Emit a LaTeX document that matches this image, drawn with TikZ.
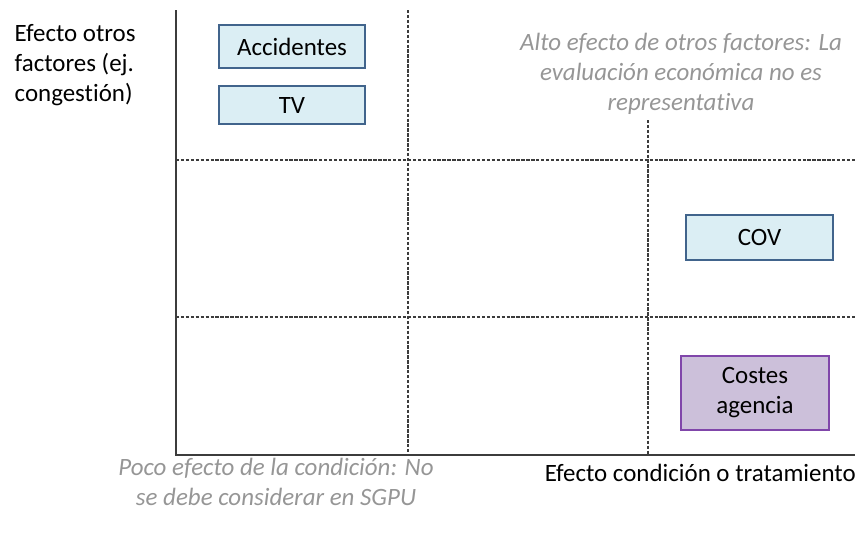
\documentclass[tikz,border=0pt]{standalone}
\usepackage{fontspec}
\setmainfont[Ligatures=NoCommon]{Carlito}
\definecolor{cajaAzul}{RGB}{219,238,244}
\definecolor{bordeAzul}{RGB}{65,100,140}
\definecolor{cajaLila}{RGB}{204,192,218}
\definecolor{bordeLila}{RGB}{128,70,170}
\definecolor{textoGris}{RGB}{150,150,150}
\definecolor{lineaEje}{RGB}{60,60,60}
\tikzset{
  eje/.style={draw=lineaEje, line width=1.5pt},
  guia/.style={draw=lineaEje, line width=1pt, dash pattern=on 2.5pt off 1.2pt},
  caja/.style={draw=bordeAzul, fill=cajaAzul, line width=1.2pt},
  cajaCoste/.style={draw=bordeLila, fill=cajaLila, line width=1.2pt},
  nota/.style={text=textoGris, font=\fontsize{18.7pt}{22.3pt}\selectfont\itshape, align=center}
}

\begin{document}
\begin{tikzpicture}[x=0.75pt, y=-0.75pt, font=\fontsize{18.7pt}{22.5pt}\selectfont]
    \useasboundingbox (0,0) rectangle (855,533);
    % ejes y cuadrantes
    \draw[guia] (408,10) -- (408,455);
    \draw[guia] (648,120) -- (648,455);
    \draw[guia] (176,160) -- (855,160);
    \draw[guia] (176,317) -- (855,317);
    \draw[eje] (176,10) -- (176,455) -- (855,455);

    \node[anchor=north west, align=left] (ejeY) at (10,20) {Efecto otros\\factores (ej.\\congestión)};
    \node[anchor=north east, inner sep=0pt] (ejeX) at (856,464) {Efecto condición o tratamiento};

    \node[nota] (notaAlta) at (681,74) {Alto efecto de otros factores: La\\evaluación económica no es\\representativa};
    \node[nota] (notaPoca) at (276,482) {Poco efecto de la condición: No\\se debe considerar en SGPU};

    \draw[caja] (219,25) rectangle (365,68) node[midway] (accidentes) {Accidentes};
    \draw[caja] (219,86) rectangle (365,124) node[midway] (tv) {TV};
    \draw[caja] (686,215) rectangle (833,260) node[midway] (cov) {COV};
    \draw[cajaCoste] (681,356) rectangle (829,430) node[midway, align=center] (costes) {Costes\\agencia};
\end{tikzpicture}
\end{document}
